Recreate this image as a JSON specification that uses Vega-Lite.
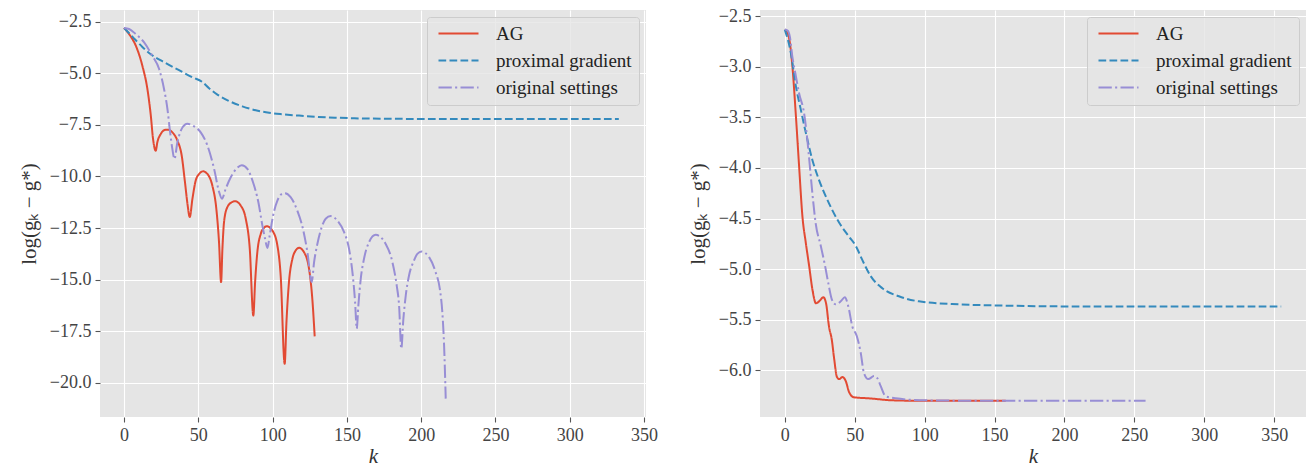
{
  "$schema": "https://vega.github.io/schema/vega-lite/v6.json",
  "background": "white",
  "padding": {"left": 18, "top": 7, "right": 4, "bottom": 0},
  "spacing": 114,
  "bounds": "flush",
  "config": {
    "view": {"fill": "#E5E5E5", "stroke": null},
    "axis": {
      "grid": true, "gridColor": "#FFFFFF", "gridWidth": 1.1,
      "domain": false, "tickColor": "#555555", "tickSize": 5, "tickWidth": 1.1,
      "labelFont": "Liberation Serif", "labelFontSize": 18, "labelColor": "#444444",
      "titleFont": "Liberation Serif", "titleFontSize": 21, "titleFontWeight": "normal", "titleColor": "#333333"
    },
    "axisX": {"labelPadding": 4, "titlePadding": 1},
    "axisY": {"labelPadding": 4, "titlePadding": 10},
    "legend": {
      "orient": "top-right", "offset": 7, "title": null,
      "fillColor": "rgba(229,229,229,0.8)", "strokeColor": "#CCCCCC", "cornerRadius": 3,
      "padding": 7, "symbolType": "M-1,0H7", "symbolSize": 100, "symbolStrokeWidth": 2,
      "labelFont": "Liberation Serif", "labelFontSize": 19, "labelColor": "#222222",
      "labelOffset": 43, "rowPadding": 7
    }
  },
  "resolve": {
    "scale": {"x": "independent", "y": "independent", "color": "independent", "strokeDash": "independent"},
    "legend": {"color": "independent", "strokeDash": "independent"}
  },
  "hconcat": [
    {
      "width": 546, "height": 407,
      "data": {"values": [
        {"method": "AG", "k": 0, "v": -2.8}, {"method": "AG", "k": 3.4, "v": -3.1}, {"method": "AG", "k": 7.9, "v": -3.66}, {"method": "AG", "k": 12.3, "v": -4.63}, {"method": "AG", "k": 15.7, "v": -5.76}, {"method": "AG", "k": 18, "v": -7.05}, {"method": "AG", "k": 19.5, "v": -8.18}, {"method": "AG", "k": 21.3, "v": -8.75}, {"method": "AG", "k": 22.4, "v": -8.34}, {"method": "AG", "k": 24.7, "v": -7.94}, {"method": "AG", "k": 26.9, "v": -7.76}, {"method": "AG", "k": 29.2, "v": -7.73}, {"method": "AG", "k": 32.5, "v": -7.86}, {"method": "AG", "k": 35.9, "v": -8.26}, {"method": "AG", "k": 38.8, "v": -8.99}, {"method": "AG", "k": 41, "v": -10.28}, {"method": "AG", "k": 42.8, "v": -11.4}, {"method": "AG", "k": 44.2, "v": -11.97}, {"method": "AG", "k": 46, "v": -11.09}, {"method": "AG", "k": 48.2, "v": -10.2}, {"method": "AG", "k": 50.5, "v": -9.88}, {"method": "AG", "k": 53.2, "v": -9.75}, {"method": "AG", "k": 56.1, "v": -9.88}, {"method": "AG", "k": 59.4, "v": -10.44}, {"method": "AG", "k": 62.1, "v": -11.57}, {"method": "AG", "k": 63.9, "v": -13.18}, {"method": "AG", "k": 65.3, "v": -15.12}, {"method": "AG", "k": 66.2, "v": -13.5}, {"method": "AG", "k": 67.3, "v": -12.2}, {"method": "AG", "k": 69.5, "v": -11.49}, {"method": "AG", "k": 72.5, "v": -11.25}, {"method": "AG", "k": 74.7, "v": -11.2}, {"method": "AG", "k": 78.5, "v": -11.41}, {"method": "AG", "k": 81.9, "v": -12.05}, {"method": "AG", "k": 84.6, "v": -13.5}, {"method": "AG", "k": 87, "v": -16.74}, {"method": "AG", "k": 88.2, "v": -15.12}, {"method": "AG", "k": 89.7, "v": -13.67}, {"method": "AG", "k": 92, "v": -12.78}, {"method": "AG", "k": 94.2, "v": -12.49}, {"method": "AG", "k": 96, "v": -12.41}, {"method": "AG", "k": 99.8, "v": -12.62}, {"method": "AG", "k": 103.2, "v": -13.35}, {"method": "AG", "k": 105.4, "v": -14.8}, {"method": "AG", "k": 108.1, "v": -19.08}, {"method": "AG", "k": 109.3, "v": -17.06}, {"method": "AG", "k": 111, "v": -15.12}, {"method": "AG", "k": 113.3, "v": -13.99}, {"method": "AG", "k": 115.5, "v": -13.59}, {"method": "AG", "k": 117.8, "v": -13.46}, {"method": "AG", "k": 121.1, "v": -13.67}, {"method": "AG", "k": 124.5, "v": -14.48}, {"method": "AG", "k": 126.7, "v": -15.93}, {"method": "AG", "k": 128.3, "v": -17.75},
        {"method": "proximal gradient", "k": 0, "v": -2.8}, {"method": "proximal gradient", "k": 5.6, "v": -3.22}, {"method": "proximal gradient", "k": 12.3, "v": -3.72}, {"method": "proximal gradient", "k": 17.5, "v": -4.05}, {"method": "proximal gradient", "k": 28, "v": -4.5}, {"method": "proximal gradient", "k": 37, "v": -4.85}, {"method": "proximal gradient", "k": 46, "v": -5.19}, {"method": "proximal gradient", "k": 52.7, "v": -5.42}, {"method": "proximal gradient", "k": 57.2, "v": -5.72}, {"method": "proximal gradient", "k": 62.8, "v": -6.03}, {"method": "proximal gradient", "k": 70, "v": -6.32}, {"method": "proximal gradient", "k": 79.6, "v": -6.6}, {"method": "proximal gradient", "k": 88.6, "v": -6.79}, {"method": "proximal gradient", "k": 97.6, "v": -6.91}, {"method": "proximal gradient", "k": 106, "v": -6.98}, {"method": "proximal gradient", "k": 117.8, "v": -7.05}, {"method": "proximal gradient", "k": 130, "v": -7.11}, {"method": "proximal gradient", "k": 142, "v": -7.15}, {"method": "proximal gradient", "k": 155, "v": -7.18}, {"method": "proximal gradient", "k": 175, "v": -7.2}, {"method": "proximal gradient", "k": 200, "v": -7.21}, {"method": "proximal gradient", "k": 250, "v": -7.21}, {"method": "proximal gradient", "k": 300, "v": -7.21}, {"method": "proximal gradient", "k": 333, "v": -7.21},
        {"method": "original settings", "k": 0, "v": -2.8}, {"method": "original settings", "k": 3.4, "v": -2.85}, {"method": "original settings", "k": 7.9, "v": -3.1}, {"method": "original settings", "k": 13.5, "v": -3.5}, {"method": "original settings", "k": 19, "v": -4.15}, {"method": "original settings", "k": 23.6, "v": -4.79}, {"method": "original settings", "k": 26.9, "v": -5.76}, {"method": "original settings", "k": 29.2, "v": -6.73}, {"method": "original settings", "k": 31, "v": -7.86}, {"method": "original settings", "k": 32.5, "v": -8.66}, {"method": "original settings", "k": 33.9, "v": -9.15}, {"method": "original settings", "k": 35.9, "v": -8.34}, {"method": "original settings", "k": 38.2, "v": -7.78}, {"method": "original settings", "k": 41, "v": -7.49}, {"method": "original settings", "k": 42.6, "v": -7.45}, {"method": "original settings", "k": 47.1, "v": -7.57}, {"method": "original settings", "k": 51.6, "v": -7.86}, {"method": "original settings", "k": 56.1, "v": -8.5}, {"method": "original settings", "k": 60.6, "v": -9.63}, {"method": "original settings", "k": 64, "v": -10.76}, {"method": "original settings", "k": 65.9, "v": -11.08}, {"method": "original settings", "k": 68.4, "v": -10.6}, {"method": "original settings", "k": 71.8, "v": -10.04}, {"method": "original settings", "k": 75.6, "v": -9.63}, {"method": "original settings", "k": 79.2, "v": -9.45}, {"method": "original settings", "k": 83, "v": -9.63}, {"method": "original settings", "k": 86.8, "v": -10.28}, {"method": "original settings", "k": 90.4, "v": -11.25}, {"method": "original settings", "k": 93.1, "v": -12.38}, {"method": "original settings", "k": 94.9, "v": -13.02}, {"method": "original settings", "k": 96.5, "v": -13.47}, {"method": "original settings", "k": 98, "v": -12.86}, {"method": "original settings", "k": 100.3, "v": -11.9}, {"method": "original settings", "k": 103.2, "v": -11.17}, {"method": "original settings", "k": 105.4, "v": -10.89}, {"method": "original settings", "k": 108.3, "v": -10.81}, {"method": "original settings", "k": 112.1, "v": -11.0}, {"method": "original settings", "k": 116.6, "v": -11.65}, {"method": "original settings", "k": 120.4, "v": -12.54}, {"method": "original settings", "k": 123.4, "v": -13.67}, {"method": "original settings", "k": 126.3, "v": -15.12}, {"method": "original settings", "k": 127.9, "v": -14.15}, {"method": "original settings", "k": 130.1, "v": -13.27}, {"method": "original settings", "k": 133, "v": -12.46}, {"method": "original settings", "k": 135.7, "v": -12.05}, {"method": "original settings", "k": 139.1, "v": -11.92}, {"method": "original settings", "k": 143.6, "v": -12.14}, {"method": "original settings", "k": 148.1, "v": -12.7}, {"method": "original settings", "k": 151.4, "v": -13.5}, {"method": "original settings", "k": 153.7, "v": -14.64}, {"method": "original settings", "k": 155.5, "v": -16.09}, {"method": "original settings", "k": 156.6, "v": -17.38}, {"method": "original settings", "k": 157.7, "v": -16.25}, {"method": "original settings", "k": 159.3, "v": -14.96}, {"method": "original settings", "k": 161.5, "v": -13.99}, {"method": "original settings", "k": 164.9, "v": -13.18}, {"method": "original settings", "k": 169.4, "v": -12.83}, {"method": "original settings", "k": 176.1, "v": -13.27}, {"method": "original settings", "k": 180.6, "v": -14.15}, {"method": "original settings", "k": 183.5, "v": -15.28}, {"method": "original settings", "k": 185.1, "v": -16.25}, {"method": "original settings", "k": 186.6, "v": -18.35}, {"method": "original settings", "k": 188, "v": -16.9}, {"method": "original settings", "k": 189.6, "v": -15.77}, {"method": "original settings", "k": 191.8, "v": -14.8}, {"method": "original settings", "k": 195.2, "v": -14.07}, {"method": "original settings", "k": 197.4, "v": -13.75}, {"method": "original settings", "k": 200.3, "v": -13.64}, {"method": "original settings", "k": 205.3, "v": -13.91}, {"method": "original settings", "k": 209.7, "v": -14.64}, {"method": "original settings", "k": 212.5, "v": -15.44}, {"method": "original settings", "k": 214.2, "v": -16.57}, {"method": "original settings", "k": 215.4, "v": -18.19}, {"method": "original settings", "k": 216.5, "v": -20.77}
      ]},
      "mark": {"type": "line", "strokeWidth": 2, "interpolate": "monotone"},
      "encoding": {
        "x": {"field": "k", "type": "quantitative", "scale": {"domain": [-16.2, 351.3], "nice": false, "zero": false},
              "axis": {"values": [0, 50, 100, 150, 200, 250, 300, 350], "title": "k", "titleFontStyle": "italic"}},
        "y": {"field": "v", "type": "quantitative", "scale": {"domain": [-21.66, -1.93], "nice": false, "zero": false},
              "axis": {"values": [-2.5, -5, -7.5, -10, -12.5, -15, -17.5, -20], "format": ".1f", "title": "log(gₖ − g*)"}},
        "color": {"field": "method", "type": "nominal",
                  "scale": {"domain": ["AG", "proximal gradient", "original settings"], "range": ["#E24A33", "#348ABD", "#988ED5"]}},
        "strokeDash": {"field": "method", "type": "nominal",
                  "scale": {"domain": ["AG", "proximal gradient", "original settings"], "range": [[1, 0], [7.7, 3.3], [13.3, 3.3, 2.1, 3.3]]}}
      }
    },
    {
      "width": 546, "height": 407,
      "data": {"values": [
        {"method": "AG", "k": 0, "v": -2.63}, {"method": "AG", "k": 1.9, "v": -2.66}, {"method": "AG", "k": 3.5, "v": -2.75}, {"method": "AG", "k": 5.4, "v": -2.99}, {"method": "AG", "k": 7.9, "v": -3.48}, {"method": "AG", "k": 10.2, "v": -3.98}, {"method": "AG", "k": 12.6, "v": -4.48}, {"method": "AG", "k": 15, "v": -4.74}, {"method": "AG", "k": 17.4, "v": -4.97}, {"method": "AG", "k": 19.7, "v": -5.2}, {"method": "AG", "k": 22.3, "v": -5.34}, {"method": "AG", "k": 24.5, "v": -5.32}, {"method": "AG", "k": 27.6, "v": -5.28}, {"method": "AG", "k": 29.5, "v": -5.34}, {"method": "AG", "k": 31.6, "v": -5.57}, {"method": "AG", "k": 33.6, "v": -5.7}, {"method": "AG", "k": 35.3, "v": -5.89}, {"method": "AG", "k": 37.3, "v": -6.07}, {"method": "AG", "k": 38.9, "v": -6.09}, {"method": "AG", "k": 41.1, "v": -6.07}, {"method": "AG", "k": 43.6, "v": -6.11}, {"method": "AG", "k": 46, "v": -6.22}, {"method": "AG", "k": 49.5, "v": -6.27}, {"method": "AG", "k": 60, "v": -6.28}, {"method": "AG", "k": 77, "v": -6.3}, {"method": "AG", "k": 100, "v": -6.305}, {"method": "AG", "k": 130, "v": -6.305}, {"method": "AG", "k": 158, "v": -6.305},
        {"method": "proximal gradient", "k": 0, "v": -2.63}, {"method": "proximal gradient", "k": 4.3, "v": -2.86}, {"method": "proximal gradient", "k": 7.9, "v": -3.19}, {"method": "proximal gradient", "k": 11.4, "v": -3.42}, {"method": "proximal gradient", "k": 15, "v": -3.65}, {"method": "proximal gradient", "k": 19.7, "v": -3.92}, {"method": "proximal gradient", "k": 24.5, "v": -4.12}, {"method": "proximal gradient", "k": 31.6, "v": -4.35}, {"method": "proximal gradient", "k": 38.8, "v": -4.54}, {"method": "proximal gradient", "k": 45.9, "v": -4.68}, {"method": "proximal gradient", "k": 50.7, "v": -4.77}, {"method": "proximal gradient", "k": 55.4, "v": -4.91}, {"method": "proximal gradient", "k": 61.4, "v": -5.07}, {"method": "proximal gradient", "k": 69.7, "v": -5.19}, {"method": "proximal gradient", "k": 81.6, "v": -5.27}, {"method": "proximal gradient", "k": 95.9, "v": -5.32}, {"method": "proximal gradient", "k": 124.5, "v": -5.35}, {"method": "proximal gradient", "k": 150, "v": -5.36}, {"method": "proximal gradient", "k": 200, "v": -5.37}, {"method": "proximal gradient", "k": 250, "v": -5.37}, {"method": "proximal gradient", "k": 300, "v": -5.37}, {"method": "proximal gradient", "k": 355, "v": -5.37},
        {"method": "original settings", "k": 0, "v": -2.63}, {"method": "original settings", "k": 2, "v": -2.64}, {"method": "original settings", "k": 3.6, "v": -2.7}, {"method": "original settings", "k": 5.4, "v": -2.9}, {"method": "original settings", "k": 7.9, "v": -3.09}, {"method": "original settings", "k": 10.2, "v": -3.26}, {"method": "original settings", "k": 13.8, "v": -3.46}, {"method": "original settings", "k": 16.1, "v": -3.72}, {"method": "original settings", "k": 17.9, "v": -3.98}, {"method": "original settings", "k": 19.7, "v": -4.25}, {"method": "original settings", "k": 22.1, "v": -4.55}, {"method": "original settings", "k": 25.7, "v": -4.77}, {"method": "original settings", "k": 28.8, "v": -4.97}, {"method": "original settings", "k": 31.1, "v": -5.14}, {"method": "original settings", "k": 33.6, "v": -5.3}, {"method": "original settings", "k": 36.4, "v": -5.35}, {"method": "original settings", "k": 40, "v": -5.32}, {"method": "original settings", "k": 42.9, "v": -5.28}, {"method": "original settings", "k": 45.4, "v": -5.37}, {"method": "original settings", "k": 48.3, "v": -5.57}, {"method": "original settings", "k": 51.4, "v": -5.66}, {"method": "original settings", "k": 54.3, "v": -5.83}, {"method": "original settings", "k": 56.6, "v": -6.03}, {"method": "original settings", "k": 59.7, "v": -6.09}, {"method": "original settings", "k": 63.8, "v": -6.06}, {"method": "original settings", "k": 66.1, "v": -6.08}, {"method": "original settings", "k": 68.6, "v": -6.16}, {"method": "original settings", "k": 72.1, "v": -6.26}, {"method": "original settings", "k": 79.3, "v": -6.28}, {"method": "original settings", "k": 100.7, "v": -6.3}, {"method": "original settings", "k": 150, "v": -6.305}, {"method": "original settings", "k": 200, "v": -6.305}, {"method": "original settings", "k": 258, "v": -6.305}
      ]},
      "mark": {"type": "line", "strokeWidth": 2, "interpolate": "monotone"},
      "encoding": {
        "x": {"field": "k", "type": "quantitative", "scale": {"domain": [-17.75, 372.75], "nice": false, "zero": false},
              "axis": {"values": [0, 50, 100, 150, 200, 250, 300, 350], "title": "k", "titleFontStyle": "italic"}},
        "y": {"field": "v", "type": "quantitative", "scale": {"domain": [-6.465, -2.436], "nice": false, "zero": false},
              "axis": {"values": [-2.5, -3, -3.5, -4, -4.5, -5, -5.5, -6], "format": ".1f", "title": "log(gₖ − g*)"}},
        "color": {"field": "method", "type": "nominal",
                  "scale": {"domain": ["AG", "proximal gradient", "original settings"], "range": ["#E24A33", "#348ABD", "#988ED5"]}},
        "strokeDash": {"field": "method", "type": "nominal",
                  "scale": {"domain": ["AG", "proximal gradient", "original settings"], "range": [[1, 0], [7.7, 3.3], [13.3, 3.3, 2.1, 3.3]]}}
      }
    }
  ]
}
